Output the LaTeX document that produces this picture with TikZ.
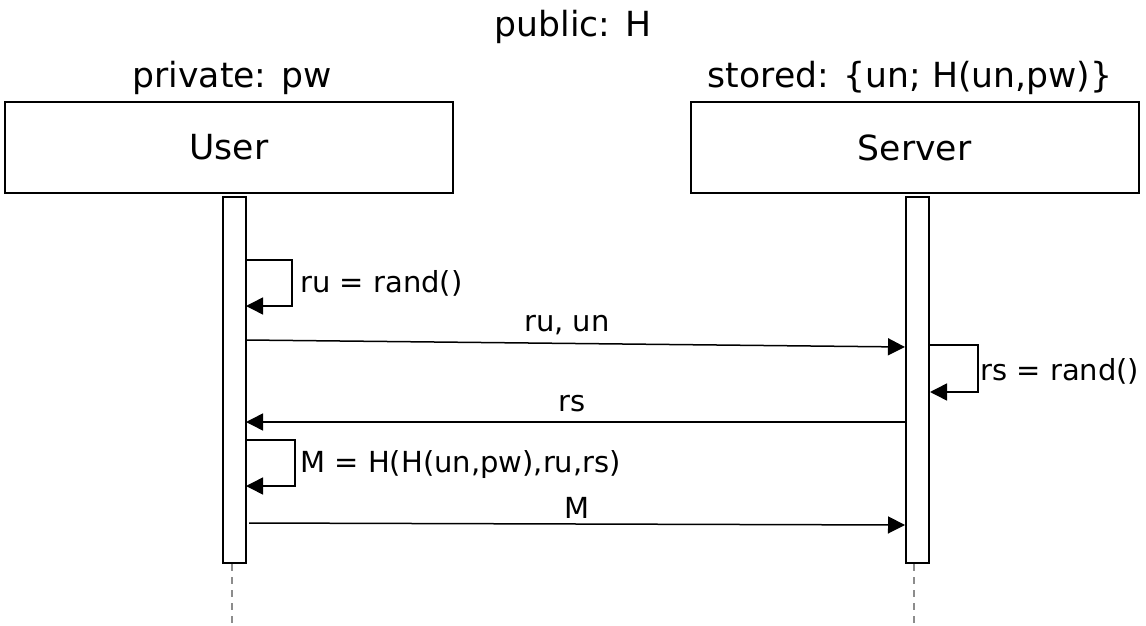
\documentclass[tikz,border=0pt]{standalone}
\usepackage{fontspec}
\setmainfont{DejaVu Sans}
\usepackage{tikz}
\usetikzlibrary{arrows.meta}
\usetikzlibrary{positioning}
\tikzset{
  ActorBox/.style={
    rectangle, draw=black, line width=1pt,
    minimum width=224pt, minimum height=45.5pt,
    font=\fontsize{17.3}{20}\selectfont,
  },
  ActBar/.style={
    rectangle, draw=black, line width=1pt, fill=white,
    minimum width=11.5pt, minimum height=183pt, inner sep=0pt,
  },
  HeadText/.style={font=\fontsize{17.3}{20}\selectfont, inner sep=0pt},
  MsgText/.style={font=\fontsize{14.5}{17}\selectfont, inner sep=0pt},
  MsgArrow/.style={draw=black, line width=0.75pt, -{Triangle[length=8.5pt,width=8.5pt]}},
  LifeLine/.style={draw=black!45, line width=1.3pt, dash pattern=on 3.5pt off 3pt},
}

\begin{document}
\begin{tikzpicture}[x=0.5pt,y=-0.5pt]
\useasboundingbox (0,0) rectangle (1146,626);
\node[HeadText] (PUB) at (573,27) {public: H};
\node[HeadText] (PRIV) at (232,78) {private: pw};
\node[HeadText] (STORE) at (910,78) {stored: \{un; H(un,pw)\}};
\node[ActorBox] (User) at (229,147.5) {User};
\node[ActorBox] (Server) at (914.5,147.5) {Server};
\node[ActBar] (UserBar) at (234.5,380) {};
\node[ActBar] (ServerBar) at (917.5,380) {};
\coordinate (UserEnd) at (232,626);
\coordinate (ServerEnd) at (914,626);
\draw[LifeLine] (UserBar.south -| UserEnd) to (UserEnd);
\draw[LifeLine] (ServerBar.south -| ServerEnd) to (ServerEnd);
% user picks ru
\coordinate (LA1) at (246,260);
\coordinate (LB1) at (246,306);
\draw[MsgArrow] (LA1) -- ++(46,0) |- (LB1);
\node[MsgText, anchor=west] (RU) at (300,283) {ru = rand()};
% ru, un
\coordinate (M1S) at (246,340);
\coordinate (M1E) at (905,347);
\draw[MsgArrow] (M1S) to (M1E);
\node[MsgText] (RUUN) at (567,325) {ru, un};
% server picks rs
\coordinate (LA2) at (929,345);
\coordinate (LB2) at (930,392);
\draw[MsgArrow] (LA2) -- ++(49,0) |- (LB2);
\node[MsgText, anchor=west] (RS) at (980,371) {rs = rand()};
% rs
\coordinate (M2S) at (906,422);
\coordinate (M2E) at (246,422);
\draw[MsgArrow] (M2S) to (M2E);
\node[MsgText] (RSL) at (572,404) {rs};
% user computes M
\coordinate (LA3) at (246,440);
\coordinate (LB3) at (246,486);
\draw[MsgArrow] (LA3) -- ++(49,0) |- (LB3);
\node[MsgText, anchor=west] (MEQ) at (300,465) {M = H(H(un,pw),ru,rs)};
% M
\coordinate (M3S) at (249,523);
\coordinate (M3E) at (905,525);
\draw[MsgArrow] (M3S) to (M3E);
\node[MsgText] (ML) at (577,508) {M};
\end{tikzpicture}
\end{document}
